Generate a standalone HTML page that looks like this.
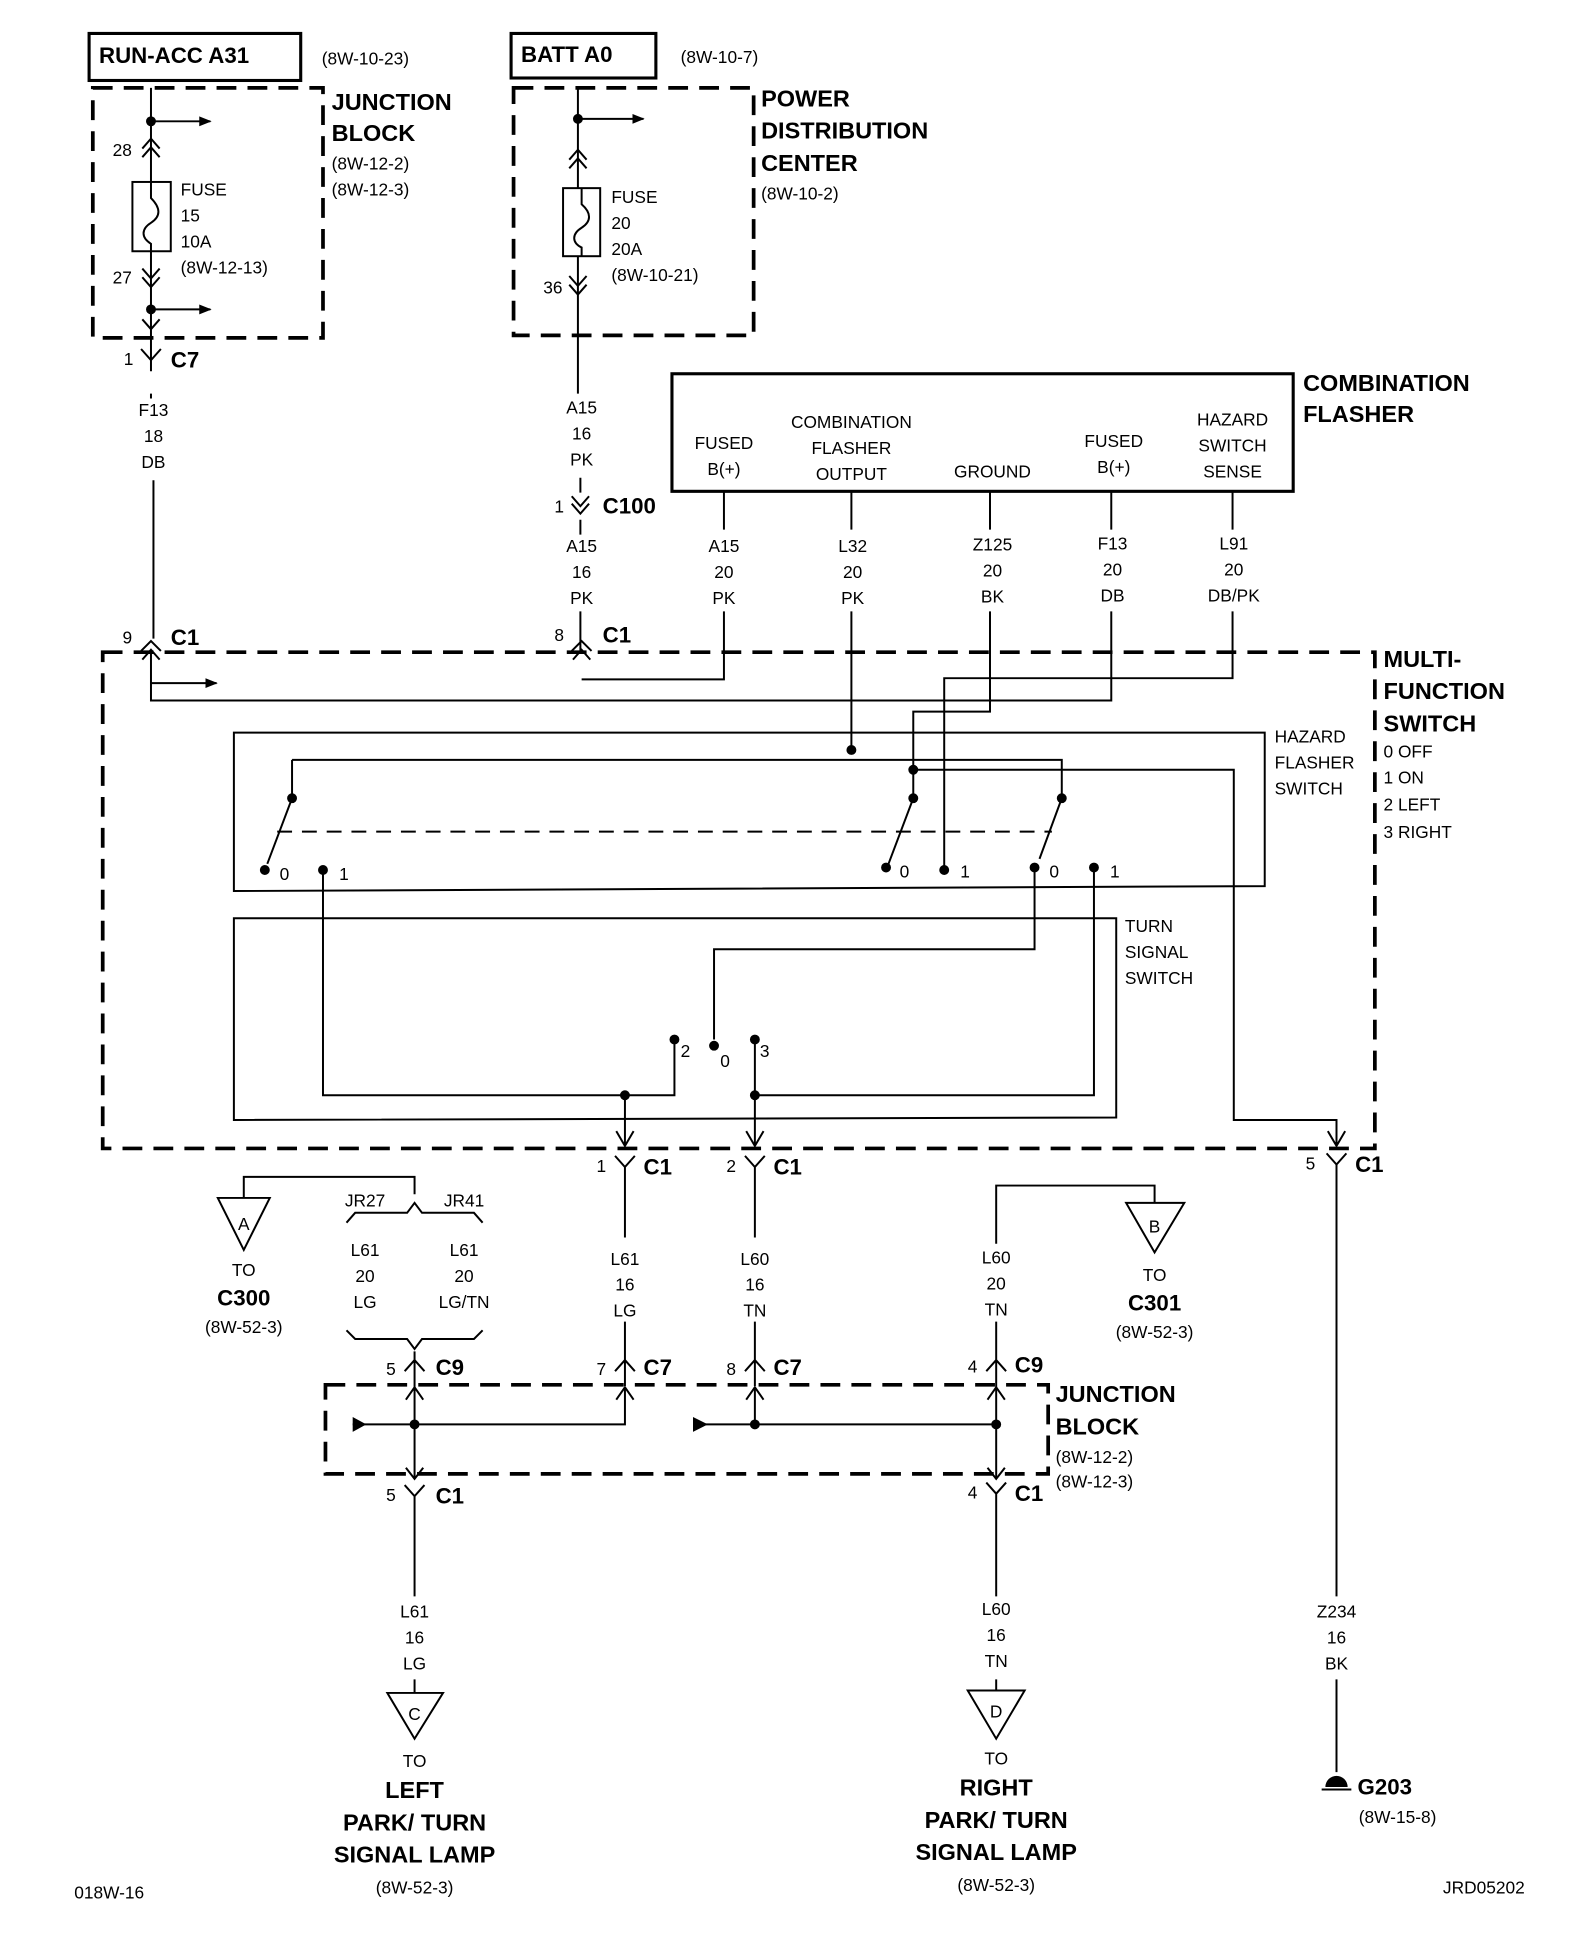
<!DOCTYPE html>
<html><head><meta charset="utf-8"><style>
html,body{margin:0;padding:0;background:#fff;}
svg{display:block;}
text{font-family:"Liberation Sans Narrow","Liberation Sans",sans-serif;fill:#000;}
.b{font-weight:bold;}
</style></head><body>
<svg width="1584" height="1938" viewBox="0 0 1280 1566" xmlns="http://www.w3.org/2000/svg">
<defs>
<marker id="ar" markerWidth="10" markerHeight="10" refX="9" refY="5" orient="auto" markerUnits="userSpaceOnUse"><path d="M0,1 L10,5 L0,9 z" fill="#000"/></marker>
</defs>
<g fill="none" stroke="#000" stroke-width="1.6">
<!-- top boxes -->
<rect x="72" y="27" width="171" height="38" stroke-width="2.5"/>
<rect x="413" y="27" width="117" height="36" stroke-width="2.5"/>
<rect x="75" y="71" width="186" height="202" stroke-width="3" stroke-dasharray="16,9"/>
<rect x="415" y="71" width="194" height="200" stroke-width="3" stroke-dasharray="16,9"/>
<!-- left feed -->
<path d="M122,71 V300 M122,318 V322 M124,388 V516"/>
<path d="M122,98 H170" marker-end="url(#ar)"/>
<path d="M122,250 H170" marker-end="url(#ar)"/>
<path d="M115,120 L122,112 L129,120 M115,127 L122,119 L129,127"/>
<rect x="107" y="147" width="31" height="56" fill="#fff"/>
<path d="M122,147 V160 C130,168 130,175 122,180 C114,185 114,192 122,197 V203"/>
<path d="M115,217 L122,225 L129,217 M115,224 L122,232 L129,224"/>
<path d="M115,258 L122,266 L129,258"/>
<path d="M114,282 L122,291 L130,282"/>
<!-- right feed -->
<path d="M467,71 V318 M469,386 V398 M469,420 V432 M469,494 V527"/>
<path d="M467,96 H520" marker-end="url(#ar)"/>
<path d="M460,129 L467,121 L474,129 M460,136 L467,128 L474,136"/>
<rect x="455" y="152" width="30" height="55" fill="#fff"/>
<path d="M470,152 V165 C478,172 478,179 470,184 C462,189 462,196 470,200 V207"/>
<path d="M460,223 L467,231 L474,223 M460,230 L467,238 L474,230"/>
<path d="M462,401 L469,409 L476,401 M462,407 L469,415 L476,407"/>
<!-- combination flasher -->
<rect x="543" y="302" width="502" height="95" stroke-width="2.5"/>
<path d="M585,397 V428 M688,397 V428 M800,397 V428 M898,397 V428 M996,397 V428"/>
<path d="M585,494 V549 H470"/>
<path d="M688,494 V606"/>
<path d="M800,494 V575 H738 V645"/>
<path d="M898,494 V566 H122 V527"/>
<path d="M996,494 V548 H763 V703"/>
<!-- MFS -->
<rect x="83" y="527" width="1028" height="401" stroke-width="3" stroke-dasharray="16,9"/>
<path d="M122,552 H175" marker-end="url(#ar)"/>
<path d="M114,526 L122,518 L130,526 M115,533 L122,525 L129,533"/>
<path d="M462,526 L470,518 L478,526 M463,533 L470,525 L477,533"/>
<!-- hazard box -->
<path d="M189,592 H1022 V716 L189,720 Z"/>
<path d="M236,614 H858 V645 M236,614 V645"/>
<path d="M738,622 H997 V905 H1080 V925"/>
<path d="M236,645 L216,698 M738,645 L718,698 M858,645 L840,694"/>
<path d="M224,672 H850" stroke-dasharray="12,8"/>
<!-- turn box -->
<path d="M189,742 H902 V903 L189,905 Z"/>
<path d="M261,703 V885 H545 V840"/>
<path d="M836,701 V767 H577 V840"/>
<path d="M884,701 V885 H610 V840"/>
<path d="M505,885 V926 M610,885 V926"/>
<path d="M498,914 L505,926 L512,914 M603,914 L610,926 L617,914 M1073,914 L1080,926 L1087,914"/>
<!-- C1 pins below -->
<path d="M497,934 L505,943 L513,934 M505,943 V1000 M602,934 L610,943 L618,934 M610,943 V1000 M1072,932 L1080,941 L1088,932 M1080,941 V1290 M1080,1357 V1432"/>
<path d="M505,1068 V1120 M610,1068 V1120 M497,1108 L505,1099 L513,1108 M602,1108 L610,1099 L618,1108"/>
<!-- A / jumpers -->
<path d="M197,968 V951 H335 V965"/>
<path d="M280,988 L287,980 H329 L335,972 L341,980 H383 L390,988"/>
<path d="M280,1075 L287,1082 H329 L335,1090 L341,1082 H383 L390,1075"/>
<path d="M335,1092 V1120 M327,1108 L335,1099 L343,1108"/>
<path d="M176,968 H218 L197,1010 Z"/>
<!-- B -->
<path d="M805,1005 V958 H933 V972 M805,1068 V1120 M797,1108 L805,1099 L813,1108"/>
<path d="M910,972 H957 L933,1012 Z"/>
<!-- JB2 -->
<rect x="263" y="1119" width="584" height="72" stroke-width="3" stroke-dasharray="16,9"/>
<path d="M335,1120 V1195 M328,1131 L335,1121 L342,1131 M328,1186 L335,1195 L342,1186"/>
<path d="M498,1131 L505,1121 L512,1131 M603,1131 L610,1121 L617,1131 M798,1131 L805,1121 L812,1131 M798,1186 L805,1195 L812,1186"/>
<path d="M285,1151 H505 V1121 M560,1151 H805 M610,1151 V1121 M805,1120 V1195"/>
<path d="M327,1200 L335,1209 L343,1200 M335,1209 V1290 M335,1357 V1368"/>
<path d="M797,1198 L805,1207 L813,1198 M805,1207 V1290 M805,1357 V1366"/>
<path d="M313,1368 H358 L335,1405 Z M782,1366 H828 L805,1405 Z"/>
<path d="M1068,1446 H1092"/>
</g>
<g fill="#000">
<path d="M285,1145 L296,1151 L285,1157 Z M560,1145 L572,1151 L560,1157 Z"/>
<circle cx="122" cy="98" r="4"/><circle cx="122" cy="250" r="4"/><circle cx="467" cy="96" r="4"/>
<circle cx="688" cy="606" r="4"/><circle cx="738" cy="622" r="4"/>
<circle cx="236" cy="645" r="4"/><circle cx="738" cy="645" r="4"/><circle cx="858" cy="645" r="4"/>
<circle cx="214" cy="703" r="4"/><circle cx="261" cy="703" r="4"/><circle cx="716" cy="701" r="4"/><circle cx="763" cy="703" r="4"/><circle cx="836" cy="701" r="4"/><circle cx="884" cy="701" r="4"/>
<circle cx="545" cy="840" r="4"/><circle cx="577" cy="845" r="4"/><circle cx="610" cy="840" r="4"/>
<circle cx="505" cy="885" r="4"/><circle cx="610" cy="885" r="4"/>
<circle cx="335" cy="1151" r="4"/><circle cx="610" cy="1151" r="4"/><circle cx="805" cy="1151" r="4"/>
<path d="M1071,1444 A9,9 0 0 1 1089,1444 Z"/>
</g>
<g font-size="14">
<text x="80" y="51" class="b" font-size="18">RUN-ACC A31</text>
<text x="260" y="52">(8W-10-23)</text>
<text x="421" y="50" class="b" font-size="18">BATT A0</text>
<text x="550" y="51">(8W-10-7)</text>
<g class="b" font-size="19"><text x="268" y="89">JUNCTION</text><text x="268" y="114">BLOCK</text>
<text x="615" y="86">POWER</text><text x="615" y="112">DISTRIBUTION</text><text x="615" y="138">CENTER</text>
<text x="1053" y="316">COMBINATION</text><text x="1053" y="341">FLASHER</text>
<text x="1118" y="539">MULTI-</text><text x="1118" y="565">FUNCTION</text><text x="1118" y="591">SWITCH</text>
<text x="853" y="1133">JUNCTION</text><text x="853" y="1159">BLOCK</text></g>
<text x="268" y="137">(8W-12-2)</text><text x="268" y="158">(8W-12-3)</text>
<text x="615" y="161">(8W-10-2)</text>
<text x="91" y="126">28</text><text x="91" y="229">27</text>
<text x="146" y="158">FUSE</text><text x="146" y="179">15</text><text x="146" y="200">10A</text><text x="146" y="221">(8W-12-13)</text>
<text x="494" y="164">FUSE</text><text x="494" y="185">20</text><text x="494" y="206">20A</text><text x="494" y="227">(8W-10-21)</text>
<text x="439" y="237">36</text>
<text x="100" y="295">1</text><text x="138" y="297" class="b" font-size="18">C7</text>
<g text-anchor="middle">
<text x="124" y="336">F13</text><text x="124" y="357">18</text><text x="124" y="378">DB</text>
<text x="470" y="334">A15</text><text x="470" y="355">16</text><text x="470" y="376">PK</text>
<text x="470" y="446">A15</text><text x="470" y="467">16</text><text x="470" y="488">PK</text>
<text x="585" y="363">FUSED</text><text x="585" y="384">B(+)</text>
<text x="688" y="346">COMBINATION</text><text x="688" y="367">FLASHER</text><text x="688" y="388">OUTPUT</text>
<text x="802" y="386">GROUND</text>
<text x="900" y="361">FUSED</text><text x="900" y="382">B(+)</text>
<text x="996" y="344">HAZARD</text><text x="996" y="365">SWITCH</text><text x="996" y="386">SENSE</text>
<text x="585" y="446">A15</text><text x="585" y="467">20</text><text x="585" y="488">PK</text>
<text x="689" y="446">L32</text><text x="689" y="467">20</text><text x="689" y="488">PK</text>
<text x="802" y="445">Z125</text><text x="802" y="466">20</text><text x="802" y="487">BK</text>
<text x="899" y="444">F13</text><text x="899" y="465">20</text><text x="899" y="486">DB</text>
<text x="997" y="444">L91</text><text x="997" y="465">20</text><text x="997" y="486">DB/PK</text>
<text x="505" y="1022">L61</text><text x="505" y="1043">16</text><text x="505" y="1064">LG</text>
<text x="610" y="1022">L60</text><text x="610" y="1043">16</text><text x="610" y="1064">TN</text>
<text x="805" y="1021">L60</text><text x="805" y="1042">20</text><text x="805" y="1063">TN</text>
<text x="295" y="975">JR27</text><text x="375" y="975">JR41</text>
<text x="295" y="1015">L61</text><text x="295" y="1036">20</text><text x="295" y="1057">LG</text>
<text x="375" y="1015">L61</text><text x="375" y="1036">20</text><text x="375" y="1057">LG/TN</text>
<text x="197" y="994">A</text><text x="933" y="996">B</text><text x="335" y="1390">C</text><text x="805" y="1388">D</text>
<text x="197" y="1031">TO</text><text x="197" y="1055" class="b" font-size="18">C300</text><text x="197" y="1077">(8W-52-3)</text>
<text x="933" y="1035">TO</text><text x="933" y="1059" class="b" font-size="18">C301</text><text x="933" y="1081">(8W-52-3)</text>
<text x="335" y="1307">L61</text><text x="335" y="1328">16</text><text x="335" y="1349">LG</text>
<text x="805" y="1305">L60</text><text x="805" y="1326">16</text><text x="805" y="1347">TN</text>
<text x="1080" y="1307">Z234</text><text x="1080" y="1328">16</text><text x="1080" y="1349">BK</text>
<text x="335" y="1428">TO</text>
<g class="b" font-size="19"><text x="335" y="1453">LEFT</text><text x="335" y="1479">PARK/ TURN</text><text x="335" y="1505">SIGNAL LAMP</text>
<text x="805" y="1451">RIGHT</text><text x="805" y="1477">PARK/ TURN</text><text x="805" y="1503">SIGNAL LAMP</text></g>
<text x="805" y="1426">TO</text>
<text x="335" y="1530">(8W-52-3)</text><text x="805" y="1528">(8W-52-3)</text>
</g>
<text x="448" y="414">1</text><text x="487" y="415" class="b" font-size="18">C100</text>
<text x="99" y="520">9</text><text x="138" y="521" class="b" font-size="18">C1</text>
<text x="448" y="518">8</text><text x="487" y="519" class="b" font-size="18">C1</text>
<text x="1118" y="612">0 OFF</text><text x="1118" y="633">1 ON</text><text x="1118" y="655">2 LEFT</text><text x="1118" y="677">3 RIGHT</text>
<text x="1030" y="600">HAZARD</text><text x="1030" y="621">FLASHER</text><text x="1030" y="642">SWITCH</text>
<text x="909" y="753">TURN</text><text x="909" y="774">SIGNAL</text><text x="909" y="795">SWITCH</text>
<text x="226" y="711">0</text><text x="274" y="711">1</text><text x="727" y="709">0</text><text x="776" y="709">1</text><text x="848" y="709">0</text><text x="897" y="709">1</text>
<text x="550" y="854">2</text><text x="582" y="862">0</text><text x="614" y="854">3</text>
<text x="482" y="947">1</text><text x="520" y="949" class="b" font-size="18">C1</text>
<text x="587" y="947">2</text><text x="625" y="949" class="b" font-size="18">C1</text>
<text x="1055" y="945">5</text><text x="1095" y="947" class="b" font-size="18">C1</text>
<text x="312" y="1111">5</text><text x="352" y="1111" class="b" font-size="18">C9</text>
<text x="482" y="1111">7</text><text x="520" y="1111" class="b" font-size="18">C7</text>
<text x="587" y="1111">8</text><text x="625" y="1111" class="b" font-size="18">C7</text>
<text x="782" y="1109">4</text><text x="820" y="1109" class="b" font-size="18">C9</text>
<text x="853" y="1182">(8W-12-2)</text><text x="853" y="1202">(8W-12-3)</text>
<text x="312" y="1213">5</text><text x="352" y="1215" class="b" font-size="18">C1</text>
<text x="782" y="1211">4</text><text x="820" y="1213" class="b" font-size="18">C1</text>
<text x="1097" y="1450" class="b" font-size="18">G203</text><text x="1098" y="1473">(8W-15-8)</text>
<text x="60" y="1534">018W-16</text><text x="1166" y="1530">JRD05202</text>
</g>
</svg>
</body></html>
